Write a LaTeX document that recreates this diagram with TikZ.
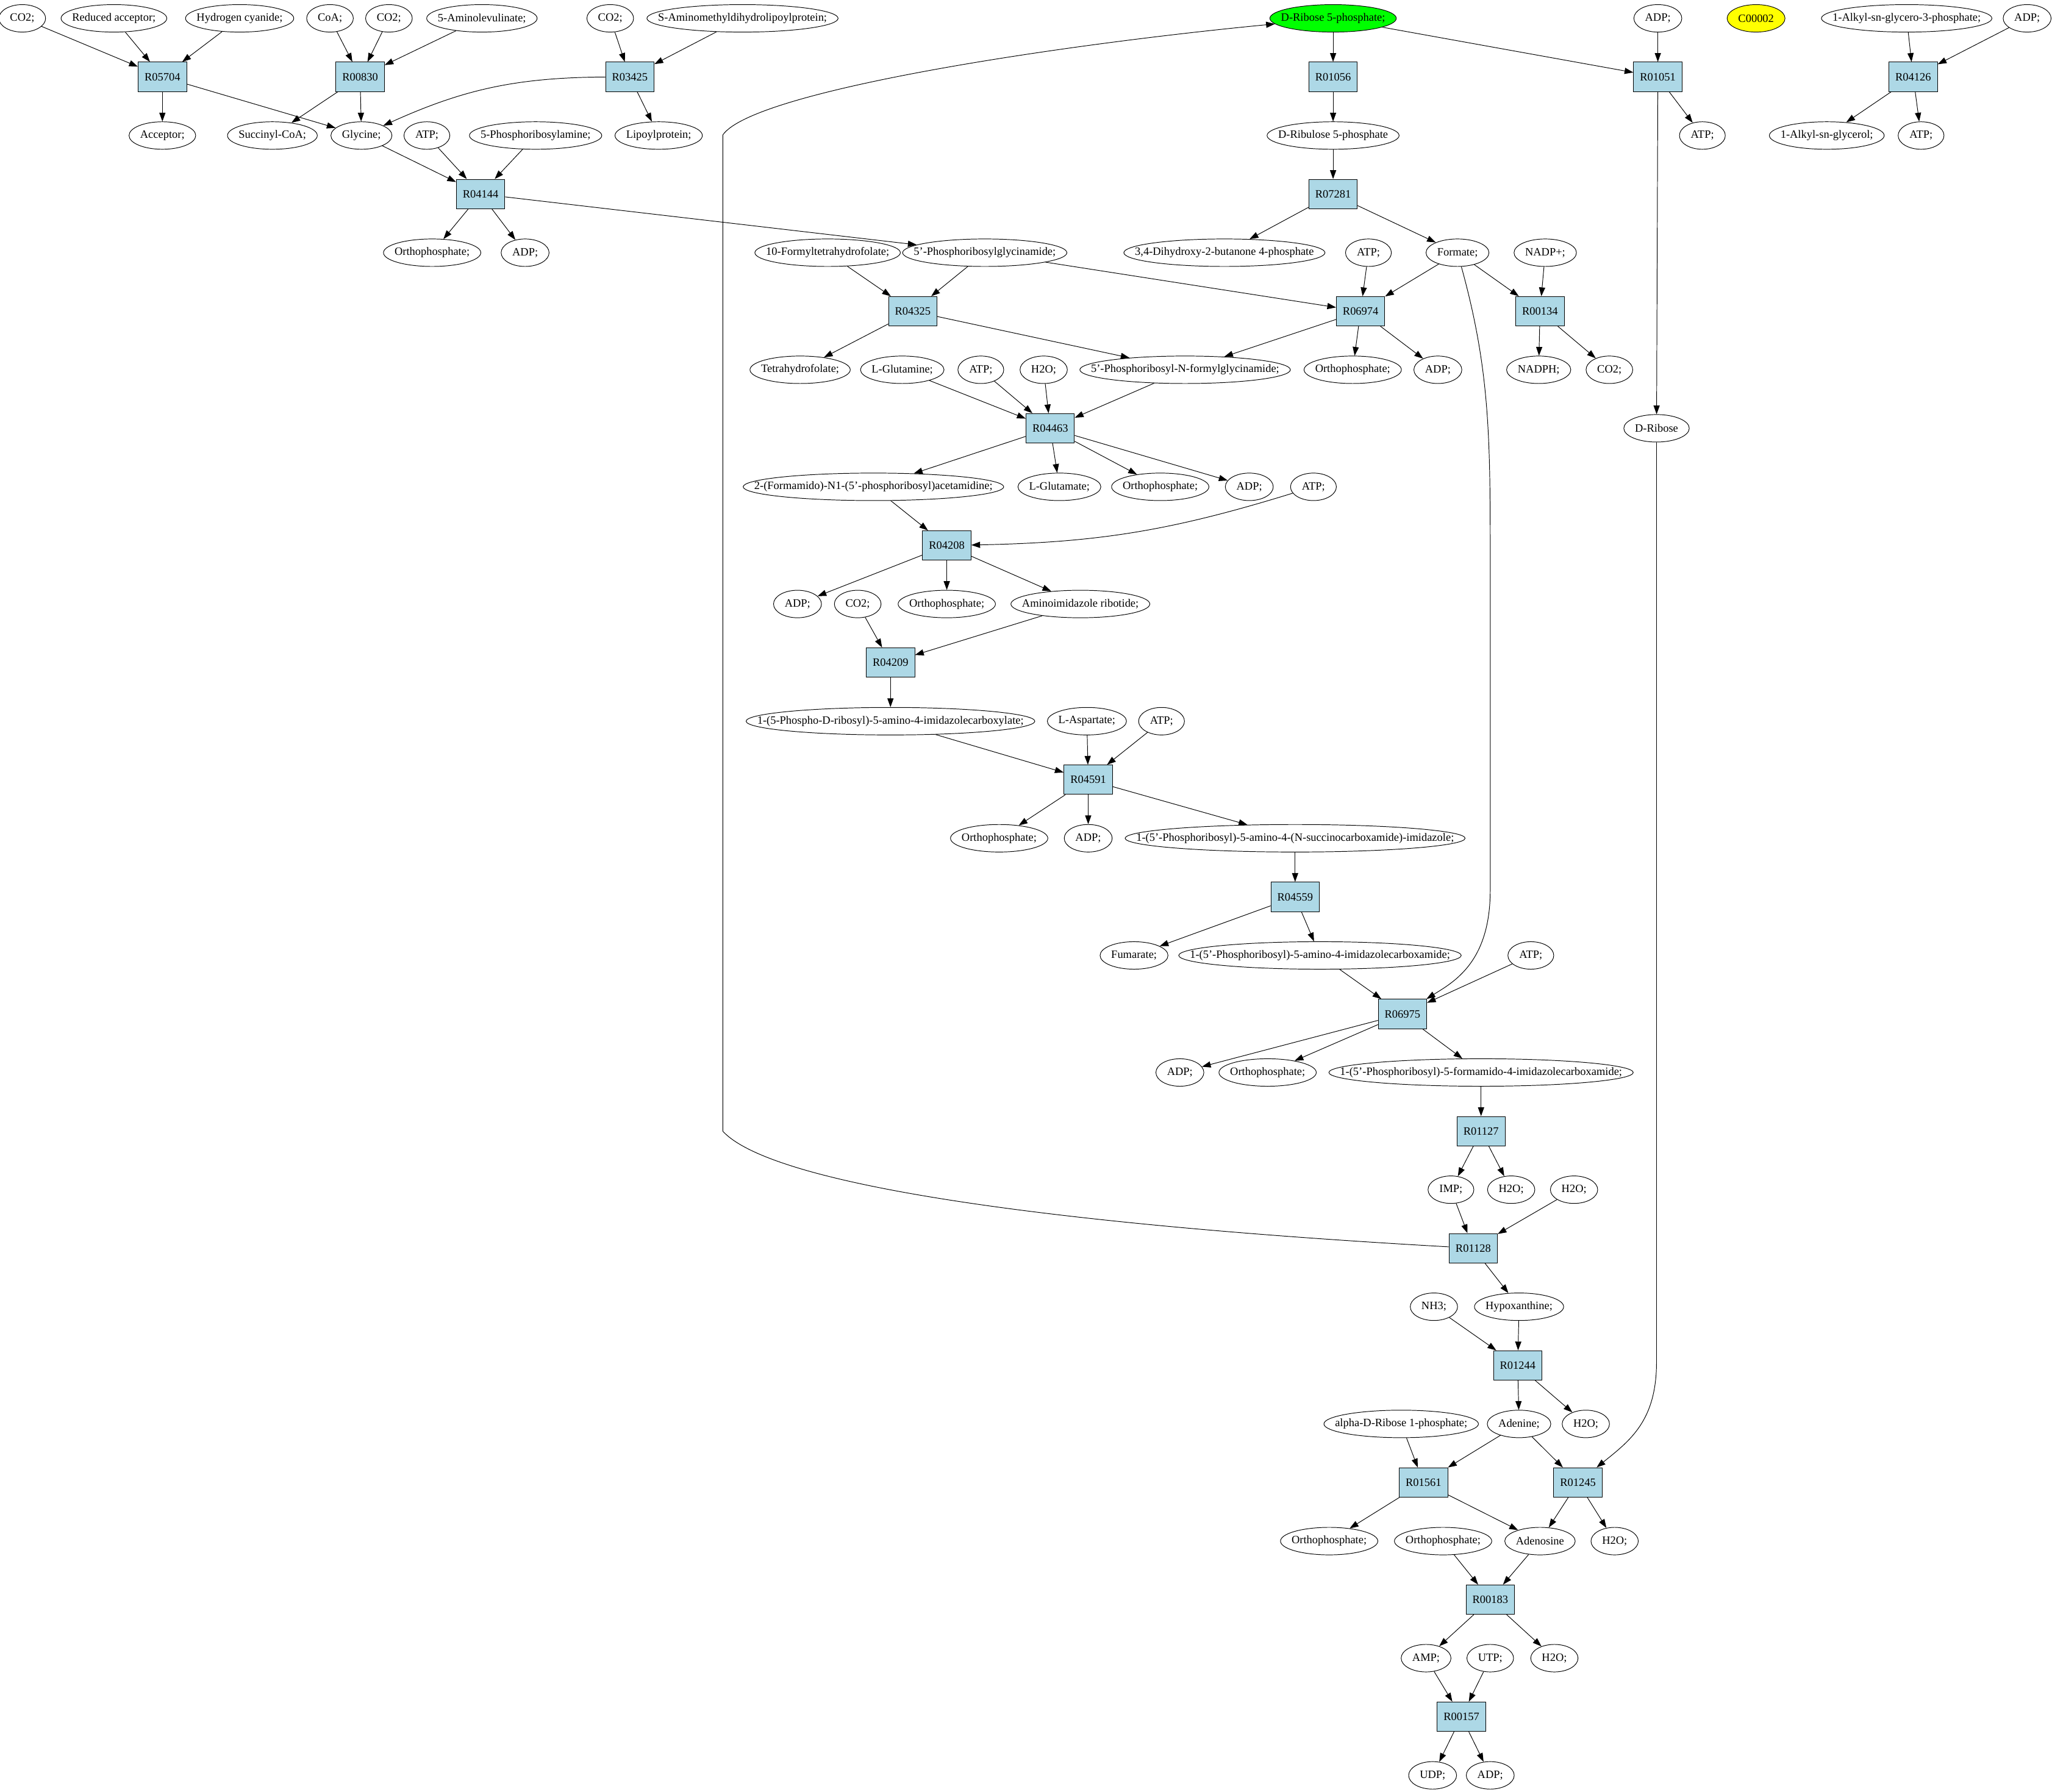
\documentclass[tikz,border=0pt]{standalone}
\usepackage{fontspec}
\setmainfont{Liberation Serif}
\usetikzlibrary{shapes.geometric,arrows.meta}
\definecolor{colorrxn}  {RGB}{173,216,230}
\definecolor{colorstart}{RGB}{0  ,255,0  }
\definecolor{colormark} {RGB}{255,255,0  }
\newcommand\metfont{\fontsize{8.6}{10}\selectfont}
\newlength\metlen
% ellipse as wide as its label: \met[options]{name}{x}{y}{label}
\newcommand\met[5][]{%
  \begin{pgfinterruptpicture}\setbox0\hbox{\metfont #5}\global\metlen=\wd0\end{pgfinterruptpicture}%
  \node[met,#1,minimum width={max(\metlen+17pt,35pt)}] (#2) at (#3,#4) {\hbox to 0pt{\hss#5\hss}};}

\begin{document}
\begin{tikzpicture}[x=1pt, y=-1pt,
    font=\metfont, line width=0.45pt,
    met/.style={ellipse, draw, inner sep=0pt, minimum height=21pt},
    rxn/.style={rectangle, draw, fill=colorrxn, inner sep=0pt, minimum width=37pt, minimum height=22.5pt},
    flow/.style={-{Triangle[length=6.7pt,width=4.7pt]}},
]
    \useasboundingbox (0,0) rectangle (1567,1368.6);

    % compounds
    \met{co2a}{17}{14}{CO2;}
    \met{redacc}{87}{14}{Reduced acceptor;}
    \met{hcn}{183}{14}{Hydrogen cyanide;}
    \met{coa}{252}{14}{CoA;}
    \met{co2b}{297}{14}{CO2;}
    \met{ala}{368}{14}{5-Aminolevulinate;}
    \met{co2c}{466}{14}{CO2;}
    \met{amdlp}{567}{14}{S-Aminomethyldihydrolipoylprotein;}
    \met[fill=colorstart]{rib5p}{1018}{14}{D-Ribose 5-phosphate;}
    \met{adpa}{1266}{14}{ADP;}
    \met[fill=colormark]{cmark}{1341}{14}{C00002}
    \met{alkglyp}{1456}{14}{1-Alkyl-sn-glycero-3-phosphate;}
    \met{adpb}{1548}{14}{ADP;}

    \met{acc}{124}{103.5}{Acceptor;}
    \met{succoa}{208}{103.5}{Succinyl-CoA;}
    \met{gly}{276}{103.5}{Glycine;}
    \met{atpa}{326}{103.5}{ATP;}
    \met{pra}{409}{103.5}{5-Phosphoribosylamine;}
    \met{lipo}{503}{103.5}{Lipoylprotein;}
    \met{ru5p}{1018}{103.5}{D-Ribulose 5-phosphate}
    \met{atpb}{1300}{103.5}{ATP;}
    \met{alkgly}{1395}{103.5}{1-Alkyl-sn-glycerol;}
    \met{atpc}{1467}{103.5}{ATP;}

    \met{orthoa}{330}{193}{Orthophosphate;}
    \met{adpc}{401}{193}{ADP;}
    \met{fthf}{632}{193}{10-Formyltetrahydrofolate;}
    \met{gar}{752}{193}{5'-Phosphoribosylglycinamide;}
    \met{dhbp}{935}{193}{3,4-Dihydroxy-2-butanone 4-phosphate}
    \met{atpd}{1045}{193}{ATP;}
    \met{formate}{1113}{193}{Formate;}
    \met{nadp}{1180}{193}{NADP+;}

    \met{thf}{611}{282.4}{Tetrahydrofolate;}
    \met{gln}{689}{282.4}{L-Glutamine;}
    \met{atpe}{749}{282.4}{ATP;}
    \met{h2oa}{797}{282.4}{H2O;}
    \met{fgar}{905}{282.4}{5'-Phosphoribosyl-N-formylglycinamide;}
    \met{orthob}{1033}{282.4}{Orthophosphate;}
    \met{adpd}{1098}{282.4}{ADP;}
    \met{nadph}{1175}{282.4}{NADPH;}
    \met{co2d}{1229}{282.4}{CO2;}
    \met{drib}{1265}{327.1}{D-Ribose}

    \met{fgam}{667}{371.8}{2-(Formamido)-N1-(5'-phosphoribosyl)acetamidine;}
    \met{glu}{809}{371.8}{L-Glutamate;}
    \met{orthoc}{886}{371.8}{Orthophosphate;}
    \met{adpe}{954}{371.8}{ADP;}
    \met{atpf}{1003}{371.8}{ATP;}

    \met{adpf}{609}{461.3}{ADP;}
    \met{co2e}{655}{461.3}{CO2;}
    \met{orthod}{723}{461.3}{Orthophosphate;}
    \met{air}{825}{461.3}{Aminoimidazole ribotide;}

    \met{cair}{680}{550.8}{1-(5-Phospho-D-ribosyl)-5-amino-4-imidazolecarboxylate;}
    \met{asp}{830}{550.8}{L-Aspartate;}
    \met{atpg}{887}{550.8}{ATP;}

    \met{orthoe}{763}{640.2}{Orthophosphate;}
    \met{adpg}{831}{640.2}{ADP;}
    \met{saicar}{989}{640.2}{1-(5'-Phosphoribosyl)-5-amino-4-(N-succinocarboxamide)-imidazole;}

    \met{fum}{866}{729.7}{Fumarate;}
    \met{aicar}{1008}{729.7}{1-(5'-Phosphoribosyl)-5-amino-4-imidazolecarboxamide;}
    \met{atph}{1169}{729.7}{ATP;}

    \met{adph}{901}{819.1}{ADP;}
    \met{orthof}{968}{819.1}{Orthophosphate;}
    \met{faicar}{1131}{819.1}{1-(5'-Phosphoribosyl)-5-formamido-4-imidazolecarboxamide;}

    \met{imp}{1108}{908.6}{IMP;}
    \met{h2ob}{1154}{908.6}{H2O;}
    \met{h2oc}{1202}{908.6}{H2O;}

    \met{nh3}{1095}{998}{NH3;}
    \met{hyp}{1160}{998}{Hypoxanthine;}

    \met{ar1p}{1070}{1087.5}{alpha-D-Ribose 1-phosphate;}
    \met{ade}{1160}{1087.5}{Adenine;}
    \met{h2od}{1211}{1087.5}{H2O;}

    \met{orthog}{1015}{1177}{Orthophosphate;}
    \met{orthoh}{1102}{1177}{Orthophosphate;}
    \met{ado}{1176}{1177}{Adenosine}
    \met{h2oe}{1233}{1177}{H2O;}

    \met{amp}{1089}{1266.4}{AMP;}
    \met{utp}{1138}{1266.4}{UTP;}
    \met{h2of}{1187}{1266.4}{H2O;}

    \met{udp}{1094}{1355.9}{UDP;}
    \met{adpi}{1138}{1355.9}{ADP;}

    % reactions
    \node[rxn] (rR05704) at (124,58.7) {R05704};
    \node[rxn] (rR00830) at (275,58.7) {R00830};
    \node[rxn] (rR03425) at (481,58.7) {R03425};
    \node[rxn] (rR01056) at (1018,58.7) {R01056};
    \node[rxn] (rR01051) at (1266,58.7) {R01051};
    \node[rxn] (rR04126) at (1461,58.7) {R04126};
    \node[rxn] (rR04144) at (367,148.2) {R04144};
    \node[rxn] (rR07281) at (1018,148.2) {R07281};
    \node[rxn] (rR04325) at (697,237.7) {R04325};
    \node[rxn] (rR06974) at (1039,237.7) {R06974};
    \node[rxn] (rR00134) at (1176,237.7) {R00134};
    \node[rxn] (rR04463) at (802,327.1) {R04463};
    \node[rxn] (rR04208) at (723,416.6) {R04208};
    \node[rxn] (rR04209) at (680,506) {R04209};
    \node[rxn] (rR04591) at (831,595.5) {R04591};
    \node[rxn] (rR04559) at (989,685) {R04559};
    \node[rxn] (rR06975) at (1071,774.4) {R06975};
    \node[rxn] (rR01127) at (1131,863.9) {R01127};
    \node[rxn] (rR01128) at (1125,953.3) {R01128};
    \node[rxn] (rR01244) at (1159,1042.8) {R01244};
    \node[rxn] (rR01561) at (1087,1132.2) {R01561};
    \node[rxn] (rR01245) at (1205,1132.2) {R01245};
    \node[rxn] (rR00183) at (1138,1221.7) {R00183};
    \node[rxn] (rR00157) at (1116,1311.1) {R00157};

    % substrates in, products out
    \path[flow] (co2a) edge (rR05704) (redacc) edge (rR05704) (hcn) edge (rR05704)
        (rR05704) edge (acc) edge (gly);
    \path[flow] (coa) edge (rR00830) (co2b) edge (rR00830) (ala) edge (rR00830)
        (rR00830) edge (succoa) edge (gly);
    \path[flow] (co2c) edge (rR03425) (amdlp) edge (rR03425)
        (rR03425) edge[bend right=12] (gly) edge (lipo);
    \path[flow] (gly) edge (rR04144) (atpa) edge (rR04144) (pra) edge (rR04144)
        (rR04144) edge (orthoa) edge (adpc) edge (gar);
    \path[flow] (rib5p) edge (rR01056) (rR01056) edge (ru5p);
    \path[flow] (ru5p) edge (rR07281) (rR07281) edge (dhbp) edge (formate);
    \path[flow] (rib5p) edge (rR01051) (adpa) edge (rR01051)
        (rR01051) edge (atpb) edge (drib);
    \path[flow] (alkglyp) edge (rR04126) (adpb) edge (rR04126)
        (rR04126) edge (alkgly) edge (atpc);
    \path[flow] (fthf) edge (rR04325) (gar) edge (rR04325)
        (rR04325) edge (thf) edge (fgar);
    \path[flow] (gar) edge (rR06974) (atpd) edge (rR06974) (formate) edge (rR06974)
        (rR06974) edge (fgar) edge (orthob) edge (adpd);
    \path[flow] (formate) edge (rR00134) (nadp) edge (rR00134)
        (rR00134) edge (nadph) edge (co2d);
    \path[flow] (gln) edge (rR04463) (atpe) edge (rR04463) (h2oa) edge (rR04463) (fgar) edge (rR04463)
        (rR04463) edge (fgam) edge (glu) edge (orthoc) edge (adpe);
    \path[flow] (fgam) edge (rR04208) (atpf) edge[bend left=8] (rR04208)
        (rR04208) edge (adpf) edge (orthod) edge (air);
    \path[flow] (co2e) edge (rR04209) (air) edge (rR04209) (rR04209) edge (cair);
    \path[flow] (cair) edge (rR04591) (asp) edge (rR04591) (atpg) edge (rR04591)
        (rR04591) edge (orthoe) edge (adpg) edge (saicar);
    \path[flow] (saicar) edge (rR04559) (rR04559) edge (fum) edge (aicar);
    \path[flow] (aicar) edge (rR06975) (atph) edge (rR06975)
        (rR06975) edge (adph) edge (orthof) edge (faicar);
    \draw[flow] (formate) .. controls (1137,280) and (1138,330) .. (1138,420)
        -- (1138,680) .. controls (1138,735) and (1110,750) .. (rR06975);
    \path[flow] (faicar) edge (rR01127) (rR01127) edge (imp) edge (h2ob);
    \path[flow] (imp) edge (rR01128) (h2oc) edge (rR01128) (rR01128) edge (hyp);
    \draw[flow] (rR01128) .. controls (800,935) and (590,905) .. (552,864)
        -- (552,103) .. controls (575,70) and (800,35) .. (rib5p);
    \path[flow] (nh3) edge (rR01244) (hyp) edge (rR01244) (rR01244) edge (ade) edge (h2od);
    \path[flow] (ar1p) edge (rR01561) (ade) edge (rR01561) (rR01561) edge (orthog) edge (ado);
    \path[flow] (ade) edge (rR01245) (rR01245) edge (ado) edge (h2oe);
    \draw[flow] (drib) -- (1265,1040) .. controls (1265,1085) and (1245,1100) .. (rR01245);
    \path[flow] (orthoh) edge (rR00183) (ado) edge (rR00183) (rR00183) edge (amp) edge (h2of);
    \path[flow] (amp) edge (rR00157) (utp) edge (rR00157) (rR00157) edge (udp) edge (adpi);

\end{tikzpicture}
\end{document}
